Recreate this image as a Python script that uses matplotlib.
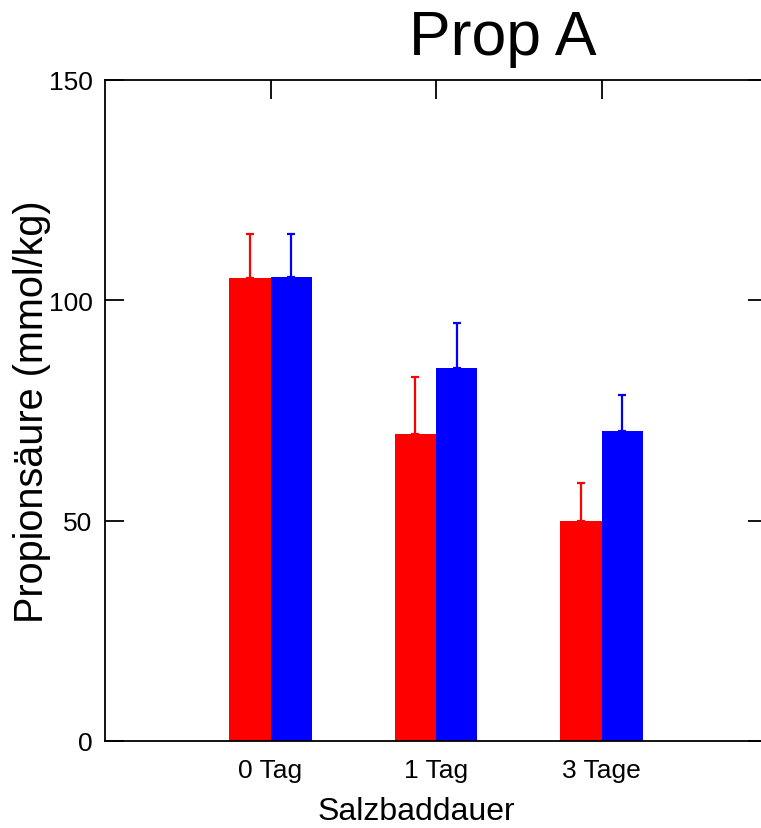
import matplotlib
matplotlib.use("Agg")
import matplotlib.pyplot as plt
import numpy as np

plt.rcParams['font.family'] = ['Liberation Sans', 'DejaVu Sans']

categories = ['0 Tag', '1 Tag', '3 Tage']
red_vals = [105, 69.7, 50]
red_err = [10, 13, 8.5]
blue_vals = [105.2, 84.6, 70.3]
blue_err = [9.8, 10.2, 8.2]
y_ticks = [0, 50, 100, 150]

fig = plt.figure(figsize=(7.61, 8.29), dpi=100)
ax = fig.add_axes([105 / 761, 87 / 829, 662 / 761, 661 / 829])

x = np.arange(1, len(categories) + 1)
w = 0.25
ax.bar(x - w / 2, red_vals, w, color='#ff0000',
       yerr=[np.zeros(3), red_err], error_kw=dict(ecolor='#ff0000', elinewidth=1.6, capsize=3, capthick=1.6))
ax.bar(x + w / 2, blue_vals, w, color='#0000ff',
       yerr=[np.zeros(3), blue_err], error_kw=dict(ecolor='#0000ff', elinewidth=1.6, capsize=3, capthick=1.6))

ax.set_xlim(0, 4)
ax.set_ylim(0, 150)
ax.set_xticks(x)
ax.set_xticklabels(categories)
ax.set_yticks(y_ticks)

ax.tick_params(axis='x', bottom=False, top=True, labelbottom=True, direction='in',
               length=14, width=1.3, labelsize=19, pad=12)
ax.tick_params(axis='y', left=True, right=True, direction='in',
               length=14, width=1.3, labelsize=19, pad=9)
for s in ax.spines.values():
    s.set_linewidth(1.3)

ax.set_ylabel('Propionsäure (mmol/kg)', fontsize=28.5)
ax.yaxis.label.set_va('center')
ax.yaxis.set_label_coords(-0.11, 0.5)
ax.set_xlabel('Salzbaddauer', fontsize=23)
ax.xaxis.label.set_va('center')
ax.xaxis.set_label_coords(0.471, -0.106)

fig.text(503 / 761, 1 - 38 / 829, 'Prop A', fontsize=45, ha='center', va='center')

fig.savefig('out.png', dpi=100)
